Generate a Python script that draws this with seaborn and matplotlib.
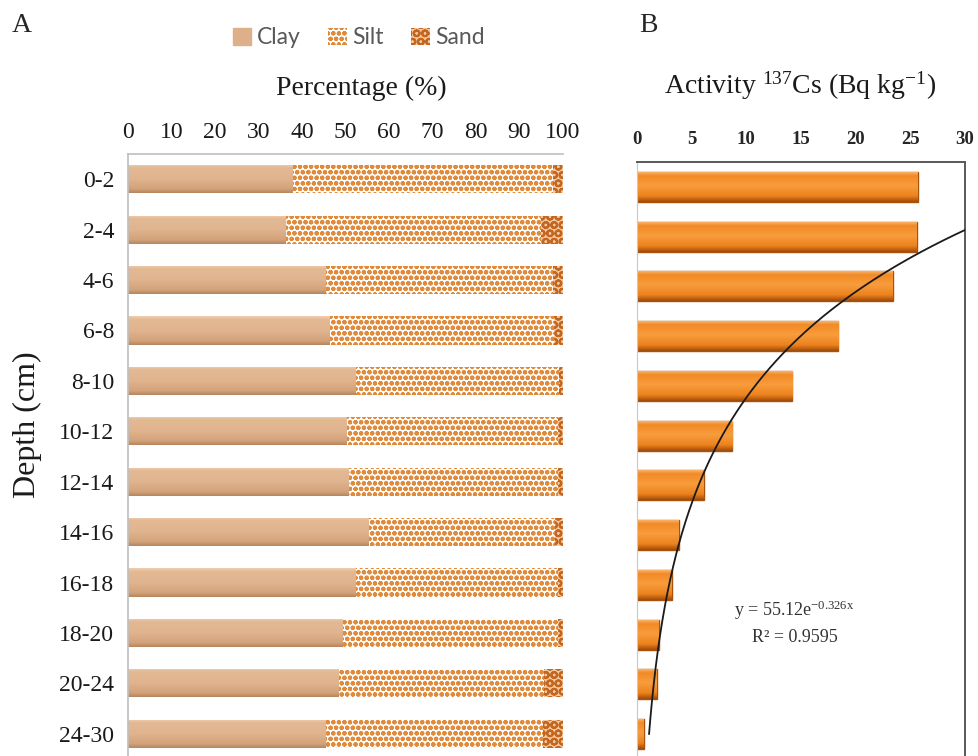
import numpy as np
import pandas as pd
import matplotlib
matplotlib.use("Agg")
import matplotlib.pyplot as plt
from matplotlib.patches import Patch
from matplotlib.colors import LinearSegmentedColormap
import seaborn as sns

# Depth intervals (cm)
depths = ["0-2", "2-4", "4-6", "6-8", "8-10", "10-12", "12-14",
          "14-16", "16-18", "18-20", "20-24", "24-30"]

# Grain-size composition (%)
clay = [37.9, 36.1, 45.3, 46.4, 52.2, 50.3, 50.6, 55.2, 52.2, 49.2, 48.3, 45.3]
sand = [2.3, 5.1, 2.3, 2.1, 1.0, 1.2, 1.1, 1.8, 1.2, 1.1, 4.4, 4.7]
silt = [round(100 - c - s, 1) for c, s in zip(clay, sand)]

# 137Cs activity (Bq kg-1)
cs137 = [25.7, 25.6, 23.4, 18.4, 14.2, 8.7, 6.1, 3.8, 3.2, 2.0, 1.8, 0.6]

# Exponential trendline y = a * exp(b * n), n = depth-interval index
fit_a, fit_b = 55.12, -0.326
fit_r2 = 0.9595

sns.set_style("white")
plt.rcParams["font.family"] = ["Liberation Serif", "DejaVu Serif"]
plt.rcParams["mathtext.fontset"] = "custom"
plt.rcParams["mathtext.rm"] = "Liberation Serif"
plt.rcParams["mathtext.it"] = "Liberation Serif"
plt.rcParams["mathtext.bf"] = "Liberation Serif:bold"
plt.rcParams["hatch.linewidth"] = 1.5

df = pd.DataFrame({"depth": depths, "clay": clay, "silt": silt, "sand": sand, "cs": cs137})
df["clay_silt"] = df["clay"] + df["silt"]
df["total"] = df["clay_silt"] + df["sand"]

W, H = 979, 756
fig = plt.figure(figsize=(W / 100, H / 100), dpi=100)


def fig_rect(left, top, right, bottom):
    return [left / W, 1 - bottom / H, (right - left) / W, (bottom - top) / H]


def bevel(ax, patches, stops):
    """Paint a vertical shading inside each bar, clipped to the bar shape."""
    cmap = LinearSegmentedColormap.from_list("bevel", stops)
    grad = np.linspace(0, 1, 128).reshape(-1, 1)
    xlim, ylim = ax.get_xlim(), ax.get_ylim()
    for p in patches:
        x0, y0, w, h = p.get_x(), p.get_y(), p.get_width(), p.get_height()
        im = ax.imshow(grad, cmap=cmap, aspect="auto", origin="upper",
                       extent=(x0, x0 + w, y0 + h, y0), interpolation="bilinear",
                       zorder=p.get_zorder() + 0.05)
        im.set_clip_path(p)
    ax.set_xlim(xlim)
    ax.set_ylim(ylim)


axA = fig.add_axes(fig_rect(128, 154, 563, 759))
axB = fig.add_axes(fig_rect(637, 162, 965, 759))

clay_col = "#DDB08A"
silt_face, silt_hatch = "#FFFFFF", "#E08A3C"
sand_face, sand_hatch = "#F2C9A0", "#C4661F"

# Panel A: stacked bars drawn as overlaid cumulative totals
sns.barplot(data=df, x="total", y="depth", order=depths, orient="h", ax=axA,
            color=sand_face, width=0.56, edgecolor=sand_hatch, linewidth=0,
            hatch="OO")
sns.barplot(data=df, x="clay_silt", y="depth", order=depths, orient="h", ax=axA,
            color=silt_face, width=0.56, edgecolor=silt_hatch, linewidth=0,
            hatch="ooo")
sns.barplot(data=df, x="clay", y="depth", order=depths, orient="h", ax=axA,
            color=clay_col, width=0.56, linewidth=0)
n = len(depths)
for i, p in enumerate(axA.patches):
    if i < n:
        p.set_facecolor(sand_face)
    elif i < 2 * n:
        p.set_facecolor(silt_face)
    else:
        p.set_facecolor(clay_col)

axA.set_xlim(0, 100)
axA.set_ylim(len(depths) - 0.5, -0.5)
bevel(axA, axA.patches[2 * n:],
      [(0.0, "#EFCDAE"), (0.12, "#E3B994"), (0.5, "#E0B48E"),
       (0.85, "#D3A37B"), (1.0, "#B48660")])

axA.xaxis.tick_top()
axA.set_xticks(np.arange(0, 101, 10))
axA.tick_params(axis="x", length=0, pad=8, labelsize=17, labelcolor="#1a1a1a")
axA.tick_params(axis="y", length=0, pad=10, labelsize=17, labelcolor="#1a1a1a")
axA.set_xlabel("")
axA.set_ylabel("Depth (cm)", fontsize=23, color="#1a1a1a")
axA.yaxis.set_label_coords(-0.198, 0.552)
for s in ["right", "bottom"]:
    axA.spines[s].set_visible(False)
for s in ["top", "left"]:
    axA.spines[s].set_color("#BFBFBF")
    axA.spines[s].set_linewidth(1.2)

# Panel B: 137Cs activity bars
sns.barplot(data=df, x="cs", y="depth", order=depths, orient="h", ax=axB,
            color="#F38A22", saturation=1, width=0.6, edgecolor="#A9520E",
            linewidth=1.0)
axB.set_xlim(0, 30)
axB.set_ylim(len(depths) - 0.5, -0.5)
bevel(axB, list(axB.patches),
      [(0.0, "#F8B36C"), (0.12, "#F28A26"), (0.45, "#F89C3C"),
       (0.8, "#EC831E"), (0.9, "#C86512"), (1.0, "#9E4C0C")])

idx = np.linspace(1, len(depths), 300)
axB.plot(fit_a * np.exp(fit_b * idx), idx - 1, color="#1a1a1a", lw=1.3, zorder=5)
axB.set_xlim(0, 30)
axB.set_ylim(len(depths) - 0.5, -0.5)
axB.xaxis.tick_top()
axB.set_xticks(np.arange(0, 31, 5))
axB.set_yticks([])
axB.tick_params(axis="x", length=0, pad=10, labelsize=13.5)
for lab in axB.get_xticklabels():
    lab.set_fontweight("bold")
axB.set_xlabel("")
axB.set_ylabel("")
axB.spines["left"].set_color("#C8C8C8")
for s in ["top", "right", "bottom"]:
    axB.spines[s].set_color("#595959")
    axB.spines[s].set_linewidth(1.4)

axB.text(0.48, 0.2496, r"y = 55.12e$^{\mathrm{-0.326x}}$", transform=axB.transAxes,
         ha="center", va="center", fontsize=13, color="#333333")
axB.text(0.48, 0.204, f"R² = {fit_r2}", transform=axB.transAxes,
         ha="center", va="center", fontsize=13, color="#333333")

# Titles and panel letters
fig.text(361 / W, 1 - 88 / H, "Percentage (%)", ha="center", va="center",
         fontsize=20, color="#1a1a1a")
fig.text(800 / W, 1 - 86 / H, r"Activity $^{137}$Cs (Bq kg$^{\mathrm{-1}}$)",
         ha="center", va="center", fontsize=20, color="#1a1a1a")
fig.text(22 / W, 1 - 25 / H, "A", ha="center", va="center", fontsize=20)
fig.text(648 / W, 1 - 25 / H, "B", ha="center", va="center", fontsize=20)

handles = [
    Patch(facecolor=clay_col, edgecolor=clay_col, label="Clay"),
    Patch(facecolor=silt_face, edgecolor=silt_hatch, hatch="ooo", linewidth=0, label="Silt"),
    Patch(facecolor=sand_face, edgecolor=sand_hatch, hatch="OO", linewidth=0, label="Sand"),
]
leg = fig.legend(handles=handles, loc="center", bbox_to_anchor=(359 / W, 1 - 38 / H),
                 ncol=3, frameon=False, handlelength=0.8, handleheight=0.8,
                 handletextpad=0.25, columnspacing=1.2,
                 prop={"family": "Lato", "size": 16.5})
for t in leg.get_texts():
    t.set_color("#595959")

fig.savefig("out.png", dpi=100)
